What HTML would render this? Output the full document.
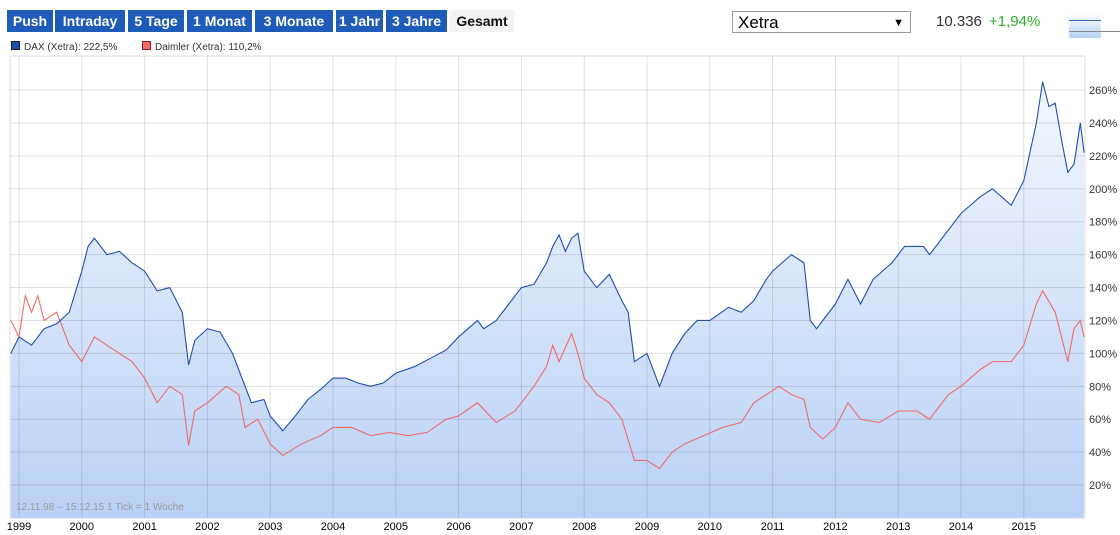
<!DOCTYPE html>
<html><head><meta charset="utf-8"><style>
body{margin:0;width:1120px;height:535px;background:#fff;font-family:"Liberation Sans",sans-serif;overflow:hidden;position:relative}
.btn{position:absolute;top:10px;height:22px;background:#1f5bb8;color:#fff;font-weight:bold;font-size:14px;line-height:22px;text-align:center}
.sel{position:absolute;left:732px;top:11px;width:179px;height:22px;border:1px solid #999;font-size:17px;line-height:22px;box-sizing:border-box;padding-left:5px}
</style></head><body>
<div class="btn" style="left:7px;width:46px">Push</div>
<div class="btn" style="left:55px;width:70px">Intraday</div>
<div class="btn" style="left:128px;width:56px">5 Tage</div>
<div class="btn" style="left:187px;width:65px">1 Monat</div>
<div class="btn" style="left:255px;width:78px">3 Monate</div>
<div class="btn" style="left:336px;width:47px">1 Jahr</div>
<div class="btn" style="left:386px;width:61px">3 Jahre</div>
<div class="btn" style="left:450px;width:64px;background:#f4f4f4;color:#111">Gesamt</div>
<div class="sel">Xetra<span style="position:absolute;right:6px;top:0;font-size:11px">▼</span></div>
<div style="position:absolute;left:936px;top:13px;font-size:15px;color:#333">10.336</div>
<div style="position:absolute;left:989px;top:13px;font-size:15px;color:#2bb32b">+1,94%</div>
<div style="position:absolute;left:1069px;top:12px;width:32px;height:25px;background:linear-gradient(#fff,#b8d0f5);border-top:1px solid #fff"><div style="position:absolute;left:0;top:7px;width:32px;height:2px;border-top:1px solid #3a6cc0"></div><div style="position:absolute;left:0;top:18px;width:51px;border-top:1px solid #888"></div></div>
<div style="position:absolute;left:11px;top:41px;font-size:10px;color:#333"><span style="display:inline-block;width:7px;height:7px;background:#1f4fa8;border:1px solid #123;margin-right:4px"></span>DAX (Xetra): 222,5%</div>
<div style="position:absolute;left:142px;top:41px;font-size:10px;color:#333"><span style="display:inline-block;width:7px;height:7px;background:#f06a6a;border:1px solid #822;margin-right:4px"></span>Daimler (Xetra): 110,2%</div>
<svg id="c" width="1120" height="535" style="position:absolute;left:0;top:0"></svg>
<script>
const daxT=[1998.87,1999.0,1999.2,1999.4,1999.6,1999.8,2000.0,2000.1,2000.2,2000.4,2000.6,2000.8,2001.0,2001.2,2001.4,2001.6,2001.7,2001.8,2002.0,2002.2,2002.4,2002.6,2002.7,2002.9,2003.0,2003.2,2003.4,2003.6,2003.8,2004.0,2004.2,2004.4,2004.6,2004.8,2005.0,2005.3,2005.6,2005.8,2006.0,2006.3,2006.4,2006.6,2006.8,2007.0,2007.2,2007.4,2007.5,2007.6,2007.7,2007.8,2007.9,2008.0,2008.2,2008.4,2008.6,2008.7,2008.8,2009.0,2009.2,2009.4,2009.6,2009.8,2010.0,2010.3,2010.5,2010.7,2010.9,2011.0,2011.3,2011.5,2011.6,2011.7,2011.9,2012.0,2012.2,2012.4,2012.6,2012.9,2013.1,2013.4,2013.5,2013.8,2014.0,2014.3,2014.5,2014.8,2015.0,2015.2,2015.3,2015.4,2015.5,2015.6,2015.7,2015.8,2015.9,2015.96];
const daxV=[100,110,105,115,118,125,150,165,170,160,162,155,150,138,140,125,93,108,115,113,100,80,70,72,62,53,62,72,78,85,85,82,80,82,88,92,98,102,110,120,115,120,130,140,142,155,165,172,162,170,173,150,140,148,132,125,95,100,80,100,112,120,120,128,125,132,145,150,160,155,120,115,125,130,145,130,145,155,165,165,160,175,185,195,200,190,205,240,265,250,252,230,210,215,240,222];
const dmT=[1998.87,1999.0,1999.1,1999.2,1999.3,1999.4,1999.6,1999.7,1999.8,2000.0,2000.2,2000.4,2000.6,2000.8,2001.0,2001.2,2001.4,2001.6,2001.7,2001.8,2002.0,2002.3,2002.5,2002.6,2002.8,2003.0,2003.2,2003.5,2003.8,2004.0,2004.3,2004.6,2004.9,2005.2,2005.5,2005.8,2006.0,2006.3,2006.6,2006.9,2007.0,2007.2,2007.4,2007.5,2007.6,2007.8,2007.9,2008.0,2008.2,2008.4,2008.6,2008.8,2009.0,2009.2,2009.4,2009.6,2009.9,2010.2,2010.5,2010.7,2010.9,2011.1,2011.3,2011.5,2011.6,2011.8,2012.0,2012.2,2012.4,2012.7,2013.0,2013.3,2013.5,2013.8,2014.0,2014.3,2014.5,2014.8,2015.0,2015.2,2015.3,2015.5,2015.6,2015.7,2015.8,2015.9,2015.96];
const dmV=[120,110,135,125,135,120,125,115,105,95,110,105,100,95,85,70,80,75,44,65,70,80,75,55,60,45,38,45,50,55,55,50,52,50,52,60,62,70,58,65,70,80,92,105,95,112,100,85,75,70,60,35,35,30,40,45,50,55,58,70,75,80,75,72,55,48,55,70,60,58,65,65,60,75,80,90,95,95,105,130,138,125,110,95,115,120,110];
const yTicks=[20,40,60,80,100,120,140,160,180,200,220,240,260];
const years=[1999,2000,2001,2002,2003,2004,2005,2006,2007,2008,2009,2010,2011,2012,2013,2014,2015];
const L=10,R=1085,T=56,B=518;
const x=t=>19+(t-1999)*62.8, y=v=>B-v*1.646;
const NS='http://www.w3.org/2000/svg',svg=document.getElementById('c');
function mk(tag,a){const e=document.createElementNS(NS,tag);for(const k in a)e.setAttribute(k,a[k]);svg.appendChild(e);return e;}
svg.innerHTML='<defs><linearGradient id="g" gradientUnits="userSpaceOnUse" x1="0" y1="'+T+'" x2="0" y2="'+B+'"><stop offset="0" stop-color="#f6f9fe"/><stop offset="1" stop-color="#b9d1f6"/></linearGradient></defs>';
let bg=mk('rect',{x:L,y:T,width:R-L,height:B-T,fill:'#fff',stroke:'#ddd'});

let pts=daxT.map((t,i)=>x(t)+','+y(daxV[i])).join(' ');
let area=mk('polygon',{points:x(daxT[0])+','+B+' '+pts+' '+x(daxT[daxT.length-1])+','+B,fill:'url(#g)'});

yTicks.forEach(v=>{let l=mk('line',{x1:L,x2:R,y1:y(v),y2:y(v),stroke:'#000','stroke-opacity':0.12});

let tx=mk('text',{x:R+4,y:y(v)+4,'font-size':11,fill:'#333'});tx.textContent=v+'%';
});
years.forEach(yr=>{let l=mk('line',{x1:x(yr),x2:x(yr),y1:T,y2:B,stroke:'#000','stroke-opacity':0.12});

let tx=mk('text',{x:x(yr),y:B+12,'font-size':11,fill:'#000','text-anchor':'middle'});tx.textContent=yr;
});
let dl=mk('polyline',{points:dmT.map((t,i)=>x(t)+','+y(dmV[i])).join(' '),fill:'none',stroke:'#f06a6a','stroke-width':1.1});

let xl=mk('polyline',{points:pts,fill:'none',stroke:'#1f4fb0','stroke-width':1.1});

let nt=mk('text',{x:16,y:510,'font-size':10,fill:'#999'});nt.textContent='12.11.98 – 15.12.15   1 Tick = 1 Woche';

</script>
</body></html>
